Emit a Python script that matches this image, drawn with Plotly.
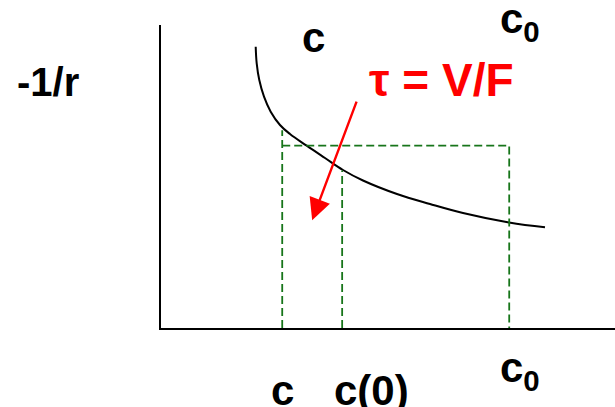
import plotly.graph_objects as go

# ---- data ----
curve_c = [2.086, 2.108, 2.165, 2.269, 2.416, 2.621, 2.841, 3.209, 3.612,
           4.009, 4.449, 5.198, 5.925, 6.652, 7.665, 8.458]
curve_inv_r = [9.284, 8.736, 8.185, 7.634, 7.139, 6.700, 6.403, 6.017, 5.611,
               5.215, 4.868, 4.422, 4.092, 3.795, 3.482, 3.323]

c_val = 2.67
c_zero_val = 3.99
c0_val = 7.67
rect_level = 6.02
c_line_top = 6.53
c_zero_line_top = 5.2

arrow_start = [4.32, 7.52]
arrow_end = [3.33, 3.56]

bottom_labels = ["c", "c(0)", "c<sub>0</sub>"]
top_labels = ["c", "c<sub>0</sub>"]
y_label = "-1/r"
tau_label = "τ = V/F"

X_MAX = 10.0
Y_MAX = 10.0

FONT = "Liberation Sans, Arial, sans-serif"
GREEN = "#17751a"
RED = "#ff0000"


def xp(v):
    return v / X_MAX


def yp(v):
    return v / Y_MAX


fig = go.Figure()

# curve
fig.add_trace(go.Scatter(x=curve_c, y=curve_inv_r, mode="lines",
                         line=dict(color="black", width=2, shape="spline", smoothing=1.1),
                         hoverinfo="skip", showlegend=False))

dash = "8px,4px"
fig.add_trace(go.Scatter(x=[c_val, c_val], y=[0, c_line_top], mode="lines",
                         line=dict(color=GREEN, width=1.8, dash=dash), showlegend=False, hoverinfo="skip"))
fig.add_trace(go.Scatter(x=[c_val, c0_val, c0_val], y=[rect_level, rect_level, 0], mode="lines",
                         line=dict(color=GREEN, width=1.8, dash=dash), showlegend=False, hoverinfo="skip"))
fig.add_trace(go.Scatter(x=[c_zero_val, c_zero_val], y=[0, c_zero_line_top], mode="lines",
                         line=dict(color=GREEN, width=1.8, dash=dash), showlegend=False, hoverinfo="skip"))


def label(x, y, text, size, color="black"):
    return dict(x=xp(x), y=yp(y), xref="paper", yref="paper", text=text, showarrow=False,
                font=dict(family=FONT, size=size, color=color, weight="bold"),
                xanchor="center", yanchor="middle")


annotations = [
    dict(x=arrow_end[0], y=arrow_end[1], ax=arrow_start[0], ay=arrow_start[1],
         xref="x", yref="y", axref="x", ayref="y", text="", showarrow=True,
         arrowhead=2, arrowsize=1.8, arrowwidth=2.4, arrowcolor=RED),
    label(6.17, 8.18, tau_label, 46, RED),
    label(3.35, 9.6, top_labels[0], 42),
    label(7.9, 10.1, top_labels[1], 42),
    label(-2.49, 8.12, y_label, 40),
    label(c_val, -2.05, bottom_labels[0], 42),
    label(4.63, -2.05, bottom_labels[1], 42),
    label(7.9, -1.39, bottom_labels[2], 42),
]

fig.update_layout(
    width=615, height=407,
    margin=dict(l=161, r=0, t=25, b=79, pad=0),
    paper_bgcolor="white", plot_bgcolor="white",
    annotations=annotations,
    xaxis=dict(range=[0, X_MAX], showgrid=False, zeroline=False, showticklabels=False,
               ticks="", showline=True, linecolor="black", linewidth=2, fixedrange=True),
    yaxis=dict(range=[0, Y_MAX], showgrid=False, zeroline=False, showticklabels=False,
               ticks="", showline=True, linecolor="black", linewidth=2, fixedrange=True),
    font=dict(family=FONT),
)

fig.write_html("out.html", config={"displayModeBar": False},
               post_script="document.body.style.margin='0px';document.body.style.overflow='hidden';")
